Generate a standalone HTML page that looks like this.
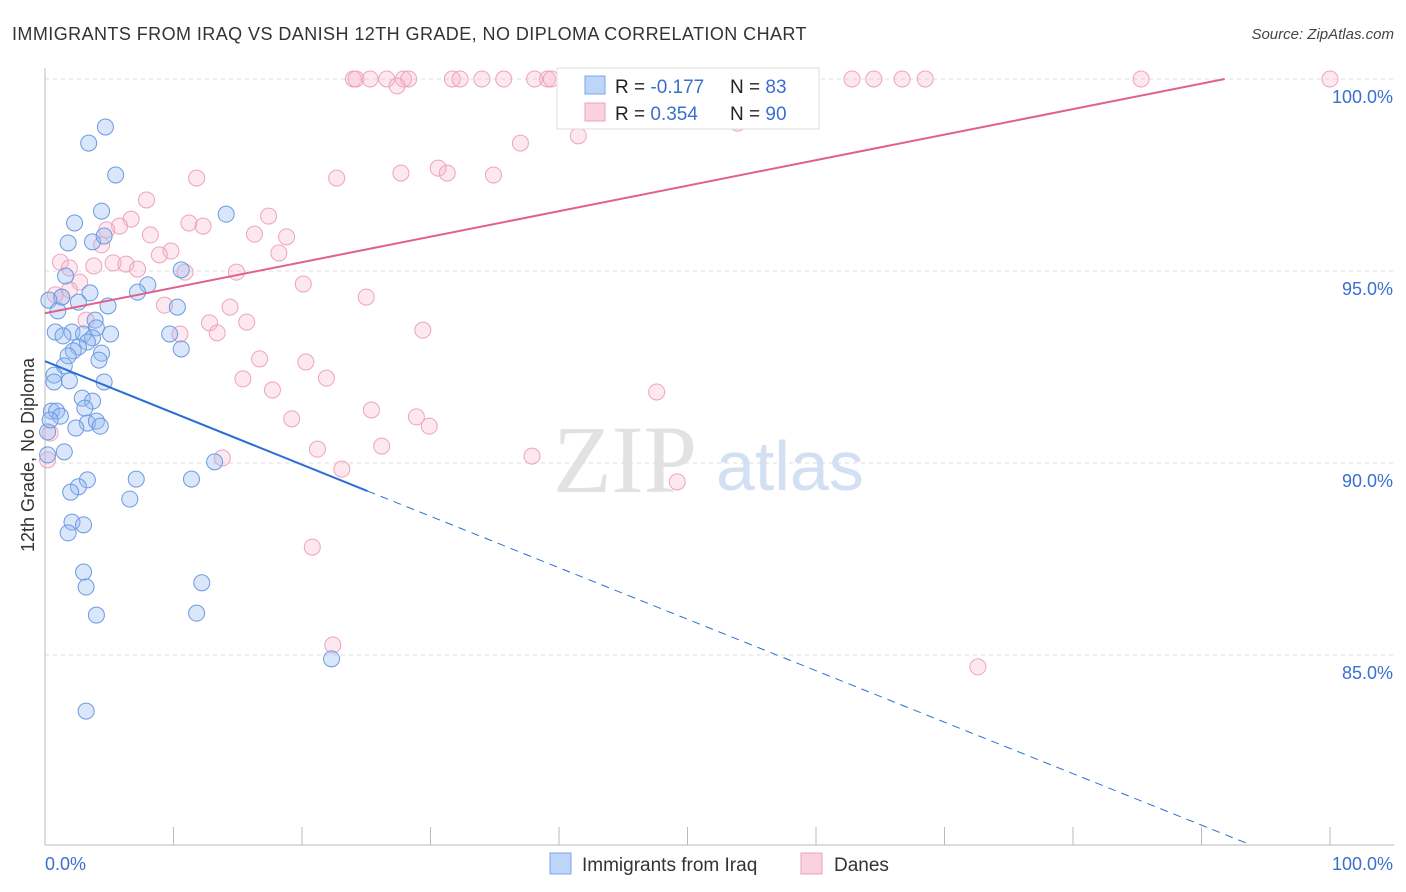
<!DOCTYPE html>
<html><head><meta charset="utf-8"><style>
body{margin:0;background:#fff;font-family:"Liberation Sans",sans-serif}
</style></head><body>
<svg id="chart" width="1406" height="892" xmlns="http://www.w3.org/2000/svg" style="display:block">
<text x="12" y="40" font-size="18" fill="#333" letter-spacing="0.43">IMMIGRANTS FROM IRAQ VS DANISH 12TH GRADE, NO DIPLOMA CORRELATION CHART</text>
<text x="1394" y="39" font-size="15" fill="#444" font-style="italic" text-anchor="end">Source: ZipAtlas.com</text>
<g>
<text x="553" y="492" font-size="96" font-family="Liberation Serif,serif" fill="#e2e2e2">ZIP</text>
<text x="716" y="490" font-size="70" fill="#d3e0f3">atlas</text>
</g>
<g id="grid"></g><g id="axes"></g><g id="pts"></g><g id="trend"></g>
<text transform="translate(34,455) rotate(-90)" font-size="18" fill="#333" text-anchor="middle">12th Grade, No Diploma</text>
<g>
<rect x="557" y="68" width="262" height="61" fill="#fff" stroke="#ddd"/>
<rect x="585" y="76" width="20" height="18" fill="rgba(160,195,245,0.7)" stroke="#7ea7e8"/>
<rect x="585" y="103" width="20" height="18" fill="rgba(248,190,210,0.7)" stroke="#eba0bb"/>
<text x="615" y="93" font-size="19" fill="#222">R = <tspan fill="#3a6fd0">-0.177</tspan></text>
<text x="730" y="93" font-size="19" fill="#222">N = <tspan fill="#3a6fd0"> 83</tspan></text>
<text x="615" y="120" font-size="19" fill="#222">R = <tspan fill="#3a6fd0"> 0.354</tspan></text>
<text x="730" y="120" font-size="19" fill="#222">N = <tspan fill="#3a6fd0">90</tspan></text>
</g>
<g>
<rect x="550" y="853" width="21" height="21" fill="rgba(160,195,245,0.7)" stroke="#7ea7e8"/>
<text x="582" y="871" font-size="19" fill="#333">Immigrants from Iraq</text>
<rect x="801" y="853" width="21" height="21" fill="rgba(248,190,210,0.7)" stroke="#eba0bb"/>
<text x="834" y="871" font-size="19" fill="#333">Danes</text>
</g>
</svg>
<script>
const blueX=[4.7,3.4,5.5,4.4,14.1,2.3,1.8,3.7,4.6,1.6,10.6,8.0,7.2,1.3,3.5,0.3,2.6,4.9,10.3,1.0,3.9,4.0,0.8,2.1,3.0,5.1,9.7,1.4,3.7,3.3,2.6,2.2,4.4,1.8,10.6,4.2,1.5,0.7,4.6,0.7,1.9,2.9,3.7,0.5,0.9,3.1,1.2,3.3,4.0,4.3,2.4,1.5,0.2,13.2,3.3,7.1,11.4,2.6,2.0,6.6,2.1,3.0,1.8,3.0,3.2,12.2,4.0,11.8,22.3,3.2,0.2,0.4];
const blueY=[98.75,98.33,97.5,96.56,96.48,96.25,95.73,95.76,95.91,94.87,95.03,94.64,94.45,94.32,94.43,94.24,94.19,94.09,94.06,93.96,93.72,93.52,93.41,93.41,93.36,93.36,93.36,93.31,93.26,93.15,93.02,92.92,92.86,92.79,92.97,92.68,92.53,92.29,92.11,92.11,92.14,91.69,91.61,91.35,91.35,91.43,91.22,91.04,91.09,90.96,90.91,90.29,90.21,90.03,89.56,89.58,89.58,89.38,89.24,89.06,88.46,88.39,88.18,87.16,86.77,86.88,86.04,86.09,84.90,83.54,90.81,91.12];
const pinkX=[24.0,24.2,26.6,27.9,28.3,31.7,32.3,34.0,35.7,38.1,39.1,39.4,42.6,45.8,47.6,52.4,54.7,58.6,62.8,64.5,66.7,68.5,85.3,100,25.3,27.4,41.5,37.0,53.9,22.7,11.8,30.6,31.3,27.7,34.9,7.9,6.7,5.8,11.2,12.3,17.4,4.8,8.2,4.4,16.3,18.8,9.8,8.9,18.2,1.2,1.9,3.8,5.3,6.3,7.2,10.9,14.9,2.7,20.1,0.8,1.9,25.0,9.3,14.4,3.2,12.8,15.7,13.4,10.5,29.4,16.7,20.3,15.4,21.9,17.7,47.6,25.4,28.9,29.9,19.2,26.2,21.2,37.9,13.8,23.1,49.2,20.8,22.4,72.6,0.4,0.2,1.3];
const pinkY=[100,100,100,100,100,100,100,100,100,100,100,100,100,100,100,100,100,100,100,100,100,100,100,100,100,99.82,98.52,98.33,98.85,97.42,97.42,97.68,97.55,97.55,97.5,96.85,96.35,96.17,96.25,96.17,96.43,96.07,95.94,95.68,95.96,95.89,95.52,95.42,95.47,95.23,95.08,95.13,95.21,95.18,95.05,94.97,94.97,94.71,94.66,94.38,94.51,94.32,94.11,94.06,93.72,93.65,93.67,93.39,93.36,93.46,92.71,92.63,92.19,92.21,91.9,91.85,91.38,91.2,90.96,91.15,90.44,90.36,90.18,90.13,89.84,89.51,87.81,85.26,84.69,90.78,90.08,94.32];
const yTicks=[100,95,90,85];
const yTickLabels=["100.0%","95.0%","90.0%","85.0%"];
const blueTrend=[[0,92.65],[25.1,89.27],[93.5,80.1]];
const pinkTrend=[[0,93.9],[91.8,100]];
const NS="http://www.w3.org/2000/svg";
const xs=v=>45+v*12.85, ys=v=>79+(100-v)*38.4;
function mk(t,a,p){const e=document.createElementNS(NS,t);for(const k in a)e.setAttribute(k,a[k]);p.appendChild(e);return e;}
const grid=document.getElementById('grid'),axes=document.getElementById('axes');
yTicks.forEach((t,i)=>{
 const l=mk('line',{x1:45,x2:1394,y1:ys(t),y2:ys(t),stroke:'#ddd','stroke-dasharray':'4,4'},grid);
 
 
 const tx=mk('text',{x:1393,y:ys(t)+24,'font-size':18,fill:'#3a6fd0','text-anchor':'end'},axes);
 tx.textContent=yTickLabels[i];
 
 
});
const ax=mk('line',{x1:45,x2:45,y1:68,y2:845,stroke:'#bbb'},axes);


const bx=mk('line',{x1:45,x2:1394,y1:845,y2:845,stroke:'#bbb'},axes);


for(let i=0;i<=10;i++){const t=mk('line',{x1:xs(i*10),x2:xs(i*10),y1:827,y2:845,stroke:'#bbb'},axes);
 
 }
[["0.0%",45,'start'],["100.0%",1393,'end']].forEach(d=>{const t=mk('text',{x:d[1],y:870,'font-size':18,fill:'#3a6fd0','text-anchor':d[2]},axes);t.textContent=d[0];
 
 });
const pts=document.getElementById('pts');
pinkX.forEach((x,i)=>{const c=mk('circle',{cx:xs(x),cy:ys(pinkY[i]),r:8,fill:'rgba(248,180,205,0.3)',stroke:'#eea3bd','stroke-width':1},pts);
 
 });
blueX.forEach((x,i)=>{const c=mk('circle',{cx:xs(x),cy:ys(blueY[i]),r:8,fill:'rgba(150,185,240,0.35)',stroke:'#6b9ae2','stroke-width':1},pts);
 
 });
const tr=document.getElementById('trend');
const b1=mk('line',{x1:xs(blueTrend[0][0]),y1:ys(blueTrend[0][1]),x2:xs(blueTrend[1][0]),y2:ys(blueTrend[1][1]),stroke:'#2b6fd6','stroke-width':2},tr);


const b2=mk('line',{x1:xs(blueTrend[1][0]),y1:ys(blueTrend[1][1]),x2:xs(blueTrend[2][0]),y2:ys(blueTrend[2][1]),stroke:'#2b6fd6','stroke-width':1,'stroke-dasharray':'8,6'},tr);


const p1=mk('line',{x1:xs(pinkTrend[0][0]),y1:ys(pinkTrend[0][1]),x2:xs(pinkTrend[1][0]),y2:ys(pinkTrend[1][1]),stroke:'#e0608e','stroke-width':2},tr);


</script>
</body></html>
